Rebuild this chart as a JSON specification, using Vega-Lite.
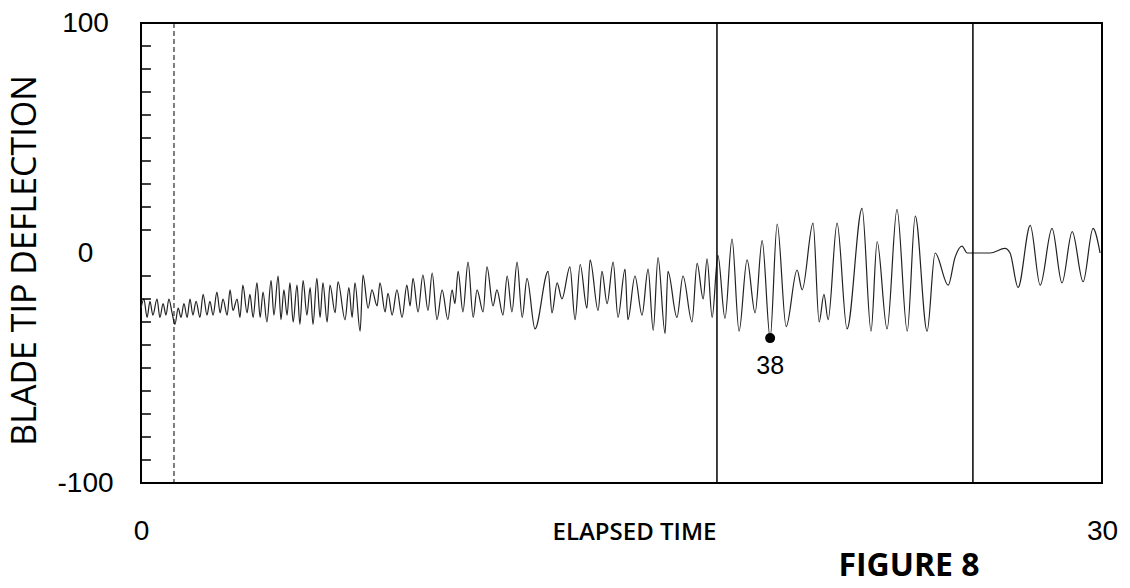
{
  "$schema": "https://vega.github.io/schema/vega-lite/v6.json",
  "width": 961,
  "height": 460,
  "autosize": {"type": "none"},
  "padding": {"left": 141, "top": 23, "right": 28, "bottom": 105},
  "background": "white",
  "config": {"view": {"stroke": "black", "strokeWidth": 2}, "axis": {"grid": false}},
  "title": {"text": "FIGURE 8", "orient": "bottom", "anchor": "end", "dx": -138, "offset": 6, "font": "Open Sans", "fontSize": 32, "fontWeight": 700, "color": "black"},
  "datasets": {
    "signal": [
      {"t":0.00,"d":-24},{"t":0.09,"d":-20},{"t":0.19,"d":-28},{"t":0.28,"d":-21},{"t":0.37,"d":-27},{"t":0.50,"d":-20},{"t":0.59,"d":-28},{"t":0.69,"d":-22},{"t":0.78,"d":-27},{"t":0.87,"d":-20},{"t":0.97,"d":-26},{"t":1.06,"d":-31},{"t":1.16,"d":-24},{"t":1.25,"d":-28},{"t":1.34,"d":-22},{"t":1.44,"d":-28},{"t":1.53,"d":-20},{"t":1.62,"d":-27},{"t":1.72,"d":-21},{"t":1.84,"d":-28},{"t":1.94,"d":-18},{"t":2.06,"d":-27},{"t":2.15,"d":-21},{"t":2.25,"d":-27},{"t":2.37,"d":-17},{"t":2.47,"d":-26},{"t":2.56,"d":-20},{"t":2.69,"d":-27},{"t":2.78,"d":-16},{"t":2.87,"d":-25},{"t":3.00,"d":-20},{"t":3.09,"d":-28},{"t":3.18,"d":-14},{"t":3.31,"d":-26},{"t":3.40,"d":-18},{"t":3.50,"d":-28},{"t":3.62,"d":-13},{"t":3.72,"d":-28},{"t":3.81,"d":-17},{"t":3.93,"d":-30},{"t":4.06,"d":-12},{"t":4.15,"d":-27},{"t":4.28,"d":-10},{"t":4.37,"d":-29},{"t":4.46,"d":-16},{"t":4.56,"d":-27},{"t":4.65,"d":-13},{"t":4.75,"d":-30},{"t":4.87,"d":-14},{"t":4.96,"d":-31},{"t":5.06,"d":-12},{"t":5.18,"d":-27},{"t":5.28,"d":-15},{"t":5.37,"d":-31},{"t":5.49,"d":-11},{"t":5.59,"d":-28},{"t":5.68,"d":-13},{"t":5.81,"d":-30},{"t":5.90,"d":-14},
      {"t":6.06,"d":-26},{"t":6.15,"d":-12.5},{"t":6.37,"d":-29},{"t":6.49,"d":-15},{"t":6.59,"d":-28},{"t":6.68,"d":-13},{"t":6.84,"d":-34},{"t":6.93,"d":-9.6},{"t":7.09,"d":-24},{"t":7.21,"d":-16},{"t":7.37,"d":-23},{"t":7.46,"d":-13},{"t":7.62,"d":-25.6},{"t":7.71,"d":-17.5},{"t":7.84,"d":-27},{"t":7.99,"d":-16},{"t":8.15,"d":-28},{"t":8.30,"d":-14},{"t":8.40,"d":-23},{"t":8.49,"d":-11},{"t":8.65,"d":-25.6},{"t":8.80,"d":-9.6},{"t":8.96,"d":-25},{"t":9.09,"d":-8.7},{"t":9.24,"d":-29},{"t":9.40,"d":-16},{"t":9.58,"d":-29},{"t":9.71,"d":-16},{"t":9.80,"d":-22},{"t":9.90,"d":-8},{"t":10.05,"d":-25.6},{"t":10.21,"d":-4},{"t":10.37,"d":-28},{"t":10.49,"d":-16},{"t":10.68,"d":-25.6},{"t":10.80,"d":-6},{"t":10.99,"d":-23},{"t":11.11,"d":-16},{"t":11.30,"d":-27},{"t":11.43,"d":-10},{"t":11.58,"d":-25.6},{"t":11.74,"d":-4},
      {"t":11.90,"d":-28},{"t":12.05,"d":-11},{"t":12.30,"d":-33},{"t":12.71,"d":-8},{"t":12.83,"d":-26},{"t":12.99,"d":-13},{"t":13.14,"d":-20},{"t":13.39,"d":-6},{"t":13.55,"d":-29},{"t":13.71,"d":-5},{"t":13.92,"d":-24},{"t":14.02,"d":-3},{"t":14.27,"d":-25},{"t":14.39,"d":-8},{"t":14.55,"d":-22},{"t":14.74,"d":-4},{"t":14.89,"d":-28},{"t":15.11,"d":-7},{"t":15.20,"d":-29},{"t":15.42,"d":-10},{"t":15.64,"d":-27},{"t":15.83,"d":-7},{"t":15.99,"d":-33.6},{"t":16.14,"d":-2},{"t":16.36,"d":-35},{"t":16.45,"d":-8},{"t":16.73,"d":-28},{"t":16.92,"d":-10},{"t":17.20,"d":-30},{"t":17.36,"d":-4.5},{"t":17.55,"d":-20},{"t":17.67,"d":-2.5},
      {"t":17.83,"d":-28},{"t":18.01,"d":-1},{"t":18.23,"d":-28.4},{"t":18.45,"d":6},{"t":18.67,"d":-34},{"t":18.92,"d":-3},{"t":19.17,"d":-26},{"t":19.39,"d":5.4},{"t":19.64,"d":-37},{"t":19.86,"d":12.6},{"t":20.14,"d":-32},{"t":20.48,"d":-7.4},{"t":20.64,"d":-16},{"t":20.98,"d":13},{"t":21.17,"d":-30},{"t":21.32,"d":-18},{"t":21.45,"d":-29},{"t":21.73,"d":13},{"t":22.04,"d":-33},{"t":22.51,"d":19.4},{"t":22.79,"d":-34},{"t":22.98,"d":5},{"t":23.29,"d":-33},{"t":23.60,"d":19},{"t":23.92,"d":-34},{"t":24.17,"d":16},{"t":24.54,"d":-34},{"t":24.79,"d":0},{"t":25.20,"d":-14},{"t":25.41,"d":-2},{"t":25.63,"d":3},{"t":25.79,"d":0},{"t":26.04,"d":0},{"t":26.51,"d":0},{"t":26.97,"d":2},{"t":27.13,"d":0},{"t":27.38,"d":-15},{"t":27.76,"d":12},{"t":28.07,"d":-14},{"t":28.44,"d":10.7},{"t":28.75,"d":-13},{"t":29.07,"d":9.3},{"t":29.41,"d":-12.5},{"t":29.72,"d":10.7},{"t":29.94,"d":0}
    ],
    "marker": [{"t": 19.64, "d": -37, "label": "38"}],
    "dashedLines": [{"t": 1.03}],
    "solidLines": [{"t": 17.98}, {"t": 25.97}],
    "yTicks": [{"v": -90}, {"v": -80}, {"v": -70}, {"v": -60}, {"v": -50}, {"v": -40}, {"v": -30}, {"v": -20}, {"v": -10}, {"v": 10}, {"v": 20}, {"v": 30}, {"v": 40}, {"v": 50}, {"v": 60}, {"v": 70}, {"v": 80}, {"v": 90}]
  },
  "layer": [
    {
      "data": {"name": "signal"},
      "mark": {"type": "line", "stroke": "#222222", "strokeWidth": 1.2, "interpolate": "monotone"},
      "encoding": {
        "x": {
          "field": "t", "type": "quantitative",
          "scale": {"domain": [0, 30], "nice": false, "zero": false},
          "axis": {
            "values": [0, 30], "ticks": false, "domain": false, "labelPadding": 34,
            "labelFlush": false, "labelOverlap": false,
            "labelFont": "Liberation Sans", "labelFontSize": 28, "labelColor": "black",
            "title": "ELAPSED TIME", "titleFont": "Open Sans", "titleFontSize": 24, "titleFontWeight": 600,
            "titleColor": "black", "titleX": 493, "titleY": 49, "titleBaseline": "middle", "titleAlign": "center"
          }
        },
        "y": {
          "field": "d", "type": "quantitative",
          "scale": {"domain": [-100, 100], "nice": false},
          "axis": {
            "values": [-100, 0, 100],
            "ticks": false, "domain": false,
            "labelExpr": "datum.value == 100 ? '100' : datum.value == 0 ? '0' : '-100'",
            "labelPadding": 56, "labelAlign": "center", "labelBaseline": "middle", "labelOverlap": false,
            "labelFont": "Liberation Sans", "labelFontSize": 28, "labelColor": "black",
            "title": "BLADE TIP DEFLECTION", "titleFont": "Open Sans", "titleFontSize": 34, "titleFontWeight": 500,
            "titleColor": "black", "titleX": -116, "titleY": 237, "titleBaseline": "middle", "titleAlign": "center", "titleAngle": -90
          }
        }
      }
    },
    {
      "data": {"name": "yTicks"},
      "mark": {"type": "rule", "stroke": "black", "strokeWidth": 1.5},
      "encoding": {"y": {"field": "v", "type": "quantitative"}, "x": {"datum": 0}, "x2": {"datum": 0.31}}
    },
    {
      "mark": {"type": "rule", "stroke": "black", "strokeWidth": 2},
      "encoding": {"y": {"datum": 0}}
    },
    {
      "data": {"name": "dashedLines"},
      "mark": {"type": "rule", "stroke": "black", "strokeWidth": 1, "strokeDash": [5, 3]},
      "encoding": {"x": {"field": "t", "type": "quantitative"}}
    },
    {
      "data": {"name": "solidLines"},
      "mark": {"type": "rule", "stroke": "black", "strokeWidth": 1.5},
      "encoding": {"x": {"field": "t", "type": "quantitative"}}
    },
    {
      "data": {"name": "marker"},
      "mark": {"type": "point", "filled": true, "color": "black", "size": 100, "opacity": 1},
      "encoding": {"x": {"field": "t", "type": "quantitative"}, "y": {"field": "d", "type": "quantitative"}}
    },
    {
      "data": {"name": "marker"},
      "mark": {"type": "text", "dy": 28, "font": "Liberation Sans", "fontSize": 25, "color": "black", "baseline": "middle", "align": "center"},
      "encoding": {"x": {"field": "t", "type": "quantitative"}, "y": {"field": "d", "type": "quantitative"}, "text": {"field": "label"}}
    }
  ]
}
